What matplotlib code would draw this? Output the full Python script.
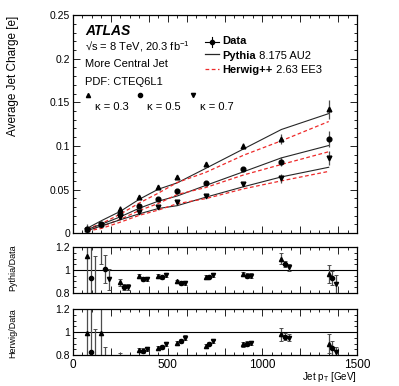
"""Average jet charge vs jet pT, with MC/data ratio panels."""

import matplotlib

matplotlib.use("Agg")

import matplotlib.pyplot as plt
import numpy as np
from matplotlib.lines import Line2D
from matplotlib.ticker import FixedLocator, FuncFormatter, MultipleLocator

plt.rcParams["font.family"] = ["Liberation Sans", "DejaVu Sans"]
plt.rcParams["mathtext.fontset"] = "custom"
plt.rcParams["mathtext.rm"] = "Liberation Sans"
plt.rcParams["mathtext.it"] = "Liberation Sans:italic"
plt.rcParams["mathtext.bf"] = "Liberation Sans:bold"

# bin centres (GeV)
pt = np.array([75, 150, 250, 350, 450, 550, 700, 900, 1100, 1350])
kappas = ["0.3", "0.5", "0.7"]
markers = ["^", "o", "v"]
ratio_shift = [0, 20, 40]

# data: average jet charge per kappa
data = [
    [0.005, 0.011, 0.028, 0.041, 0.053, 0.064, 0.079, 0.100, 0.108, 0.142],
    [0.0045, 0.010, 0.022, 0.031, 0.039, 0.048, 0.058, 0.074, 0.082, 0.108],
    [0.004, 0.009, 0.018, 0.024, 0.0295, 0.0355, 0.043, 0.056, 0.063, 0.086],
]
data_err = [
    [0.005, 0.002, 0.003, 0.002, 0.002, 0.002, 0.002, 0.003, 0.006, 0.011],
    [0.004, 0.002, 0.002, 0.002, 0.002, 0.002, 0.002, 0.002, 0.005, 0.009],
    [0.004, 0.002, 0.002, 0.002, 0.002, 0.002, 0.002, 0.002, 0.005, 0.008],
]

# Pythia / Data
pythia_ratio = [
    [1.12, 1.30, 0.893, 0.948, 0.95, 0.90, 0.939, 0.965, 1.10, 0.965],
    [0.933, 1.01, 0.852, 0.922, 0.939, 0.887, 0.942, 0.951, 1.052, 0.930],
    [0.70, 0.92, 0.852, 0.922, 0.957, 0.887, 0.957, 0.95, 1.023, 0.878],
]
pythia_ratio_err = [
    [0.6, 0.25, 0.03, 0.02, 0.015, 0.015, 0.015, 0.02, 0.05, 0.08],
    [0.6, 0.12, 0.03, 0.02, 0.015, 0.02, 0.015, 0.02, 0.03, 0.06],
    [0.42, 0.09, 0.03, 0.02, 0.015, 0.02, 0.015, 0.02, 0.03, 0.08],
]

# Herwig / Data
herwig_ratio = [
    [0.989, 0.994, 0.78, 0.843, 0.864, 0.907, 0.881, 0.893, 0.98, 0.901],
    [0.823, 0.75, 0.72, 0.838, 0.872, 0.922, 0.901, 0.901, 0.96, 0.864],
    [0.60, 0.60, 0.70, 0.852, 0.896, 0.951, 0.919, 0.907, 0.951, 0.823],
]
herwig_ratio_err = [
    [0.6, 0.25, 0.04, 0.02, 0.015, 0.015, 0.015, 0.02, 0.06, 0.08],
    [0.6, 0.12, 0.03, 0.02, 0.015, 0.02, 0.015, 0.02, 0.03, 0.06],
    [0.43, 0.09, 0.03, 0.02, 0.015, 0.02, 0.015, 0.02, 0.03, 0.05],
]

RED = "#ee2a2a"
ERR = "0.3"


def style_axis(ax):
    ax.tick_params(which="both", direction="in", top=True, right=True,
                   labelsize=7.5, width=0.6)
    ax.tick_params(which="major", length=5)
    ax.tick_params(which="minor", length=2.5)
    ax.set_xlim(0, 1500)
    ax.xaxis.set_major_locator(FixedLocator([0, 200, 400, 500, 600, 800, 1000,
                                             1200, 1400, 1500]))
    ax.xaxis.set_major_formatter(
        FuncFormatter(lambda v, _: f"{v:.0f}" if v % 500 == 0 else ""))
    ax.xaxis.set_minor_locator(MultipleLocator(50))
    for s in ax.spines.values():
        s.set_linewidth(0.9)


fig = plt.figure(figsize=(3.99, 3.86), dpi=100)
ax = fig.add_axes([0.183, 0.396, 0.712, 0.565])
ax_p = fig.add_axes([0.183, 0.241, 0.712, 0.119])
ax_h = fig.add_axes([0.183, 0.080, 0.712, 0.119])

# main panel
for k in range(3):
    y = np.array(data[k])
    ax.plot(pt, y * np.array(pythia_ratio[k]), color="0.15", lw=0.8)
    ax.plot(pt, y * np.array(herwig_ratio[k]), color=RED, lw=0.9,
            dashes=(3, 2))
    ax.errorbar(pt, y, yerr=data_err[k], fmt=markers[k], color="black",
                ms=3.4, ecolor=ERR, elinewidth=0.9, capsize=0)

ax.set_ylim(0, 0.25)
ax.yaxis.set_major_locator(MultipleLocator(0.05))
ax.yaxis.set_minor_locator(MultipleLocator(0.01))
ax.yaxis.set_major_formatter(FuncFormatter(lambda v, _: f"{v:g}"))
style_axis(ax)
ax.tick_params(labelbottom=False, pad=2)

# labels inside the main panel
tr = ax.transAxes
ax.text(0.042, 0.908, "ATLAS", transform=tr, fontsize=10, fontweight="bold",
        style="italic", va="baseline")
ax.text(0.042, 0.839, "√s = 8 TeV, 20.3 fb$^{-1}$", transform=tr,
        fontsize=8, va="baseline")
ax.text(0.042, 0.763, "More Central Jet", transform=tr, fontsize=8,
        va="baseline")
ax.text(0.042, 0.679, "PDF: CTEQ6L1", transform=tr, fontsize=8,
        va="baseline")
for k, (mx, tx) in enumerate([(0.052, 0.077), (0.236, 0.26), (0.421, 0.447)]):
    ax.plot([mx], [0.633], markers[k], color="black", ms=3, transform=tr,
            clip_on=False)
    ax.text(tx, 0.564, f"κ = {kappas[k]}", transform=tr, fontsize=8,
            va="baseline")

# hand-made legend
hx0, hx1, hxc = 0.465, 0.514, 0.489
ax.add_line(Line2D([hx0, hx1], [0.878, 0.878], color="black", lw=0.8,
                   transform=tr))
ax.add_line(Line2D([hxc, hxc], [0.855, 0.901], color="black", lw=0.8,
                   transform=tr))
ax.plot([hxc], [0.878], "o", color="black", ms=3, transform=tr)
ax.add_line(Line2D([hx0, hx1], [0.82, 0.82], color="0.15", lw=0.9,
                   transform=tr))
ax.add_line(Line2D([hx0, hx1], [0.751, 0.751], color=RED, lw=0.9,
                   dashes=(3, 2), transform=tr))
ax.text(0.525, 0.866, "Data", transform=tr, fontsize=8, fontweight="bold",
        va="baseline")
t1 = ax.text(0.525, 0.80, "Pythia", transform=tr, fontsize=8,
             fontweight="bold", va="baseline")
ax.annotate(" 8.175 AU2", xy=(1, 0), xycoords=t1, fontsize=8,
            va="bottom")
t2 = ax.text(0.525, 0.735, "Herwig++", transform=tr, fontsize=8,
             fontweight="bold", va="baseline")
ax.annotate(" 2.63 EE3", xy=(1, 0), xycoords=t2, fontsize=8, va="bottom")

# ratio panels
for rax, ratios, errs in [(ax_p, pythia_ratio, pythia_ratio_err),
                          (ax_h, herwig_ratio, herwig_ratio_err)]:
    rax.axhline(1.0, color="black", lw=0.8)
    for k in range(3):
        rax.errorbar(pt + ratio_shift[k], ratios[k], yerr=errs[k],
                     fmt=markers[k], color="black", ms=3.0, ecolor=ERR,
                     elinewidth=0.9, capsize=1.2, capthick=0.7)
    rax.set_ylim(0.8, 1.2)
    rax.yaxis.set_major_locator(FixedLocator([0.8, 1.0, 1.2]))
    rax.yaxis.set_minor_locator(MultipleLocator(0.05))
    rax.yaxis.set_major_formatter(FuncFormatter(lambda v, _: f"{v:g}"))
    style_axis(rax)
    rax.tick_params(pad=2)

ax_p.tick_params(labelbottom=False)
ax_h.tick_params(axis="x", labelsize=8.5, pad=3)

fig.text(13 / 399, 1 - 16 / 386, "Average Jet Charge [e]", rotation=90,
         ha="center", va="top", fontsize=8.5)
fig.text(13 / 399, 1 - 268 / 386, "Pythia/Data", rotation=90, ha="center",
         va="center", fontsize=6.5)
fig.text(13 / 399, 1 - 333 / 386, "Herwig/Data", rotation=90, ha="center",
         va="center", fontsize=6.5)
fig.text(357 / 399, 1 - 380 / 386, r"Jet p$_{\mathrm{T}}$ [GeV]",
         ha="right", va="baseline", fontsize=7)

fig.savefig("out.png", dpi=100)
plt.close(fig)
